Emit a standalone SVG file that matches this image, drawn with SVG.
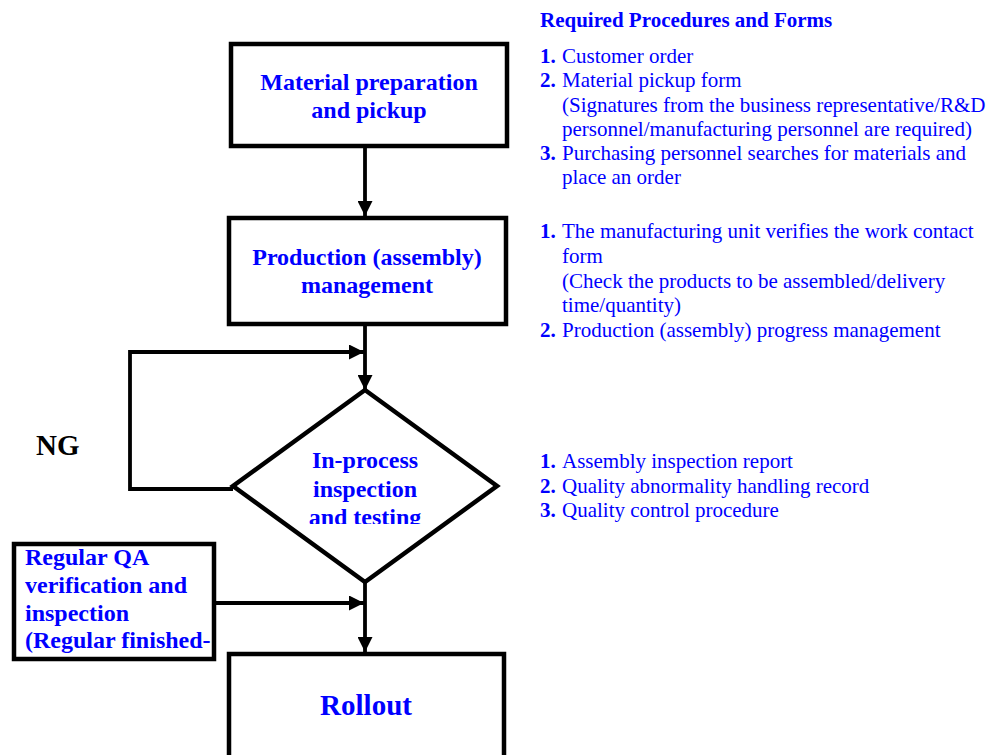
<svg xmlns="http://www.w3.org/2000/svg" width="1001" height="755" viewBox="0 0 1001 755">
  <style>
    .box { fill: #ffffff; stroke: #000000; stroke-width: 4.5; }
    .link { fill: none; stroke: #000000; stroke-width: 3.8; }
    .node { font-family: "Liberation Serif", "Times New Roman", serif; font-weight: bold; fill: #0000ff; font-size: 24px; }
    .lbl { font-family: "Liberation Serif", "Times New Roman", serif; font-weight: bold; fill: #000000; }
    .note { font-family: "Liberation Serif", "Times New Roman", serif; font-size: 21px; fill: #0000ff; }
    .num { font-weight: bold; }
  </style>
  <defs>
    <marker id="arrow" viewBox="0 0 15 15" refX="15" refY="7.5" markerWidth="15" markerHeight="15" markerUnits="userSpaceOnUse" orient="auto">
      <path d="M0,0 L15,7.5 L0,15 Z" fill="#000000"/>
    </marker>
    <clipPath id="clip-diamond-text">
      <rect x="233" y="390" width="264" height="134"/>
    </clipPath>
    <clipPath id="clip-qa-text">
      <rect x="16" y="546" width="196" height="111"/>
    </clipPath>
  </defs>

  <rect width="1001" height="755" fill="#ffffff"/>

  <!-- connectors -->
  <g id="connectors">
    <line class="link" x1="365" y1="148" x2="365" y2="216" marker-end="url(#arrow)"/>
    <line class="link" x1="365" y1="326" x2="365" y2="390" marker-end="url(#arrow)"/>
    <polyline class="link" points="233,489 130,489 130,352 364,352" marker-end="url(#arrow)"/>
    <line class="link" x1="365" y1="582" x2="365" y2="652" marker-end="url(#arrow)"/>
    <line class="link" x1="216" y1="603" x2="364" y2="603" marker-end="url(#arrow)"/>
  </g>

  <!-- process nodes -->
  <g id="node-material">
    <rect class="box" x="231" y="44" width="276" height="102"/>
    <text class="node" text-anchor="middle" x="369" y="90">Material preparation</text>
    <text class="node" text-anchor="middle" x="369" y="118">and pickup</text>
  </g>

  <g id="node-production">
    <rect class="box" x="229" y="218" width="277" height="106"/>
    <text class="node" text-anchor="middle" x="367" y="265">Production (assembly)</text>
    <text class="node" text-anchor="middle" x="367" y="293">management</text>
  </g>

  <g id="node-inspection">
    <polygon class="box" points="365,390 497,486 365,582 233,486"/>
    <g clip-path="url(#clip-diamond-text)">
      <text class="node" text-anchor="middle" x="365" y="468">In-process</text>
      <text class="node" text-anchor="middle" x="365" y="497">inspection</text>
      <text class="node" text-anchor="middle" x="365" y="525">and testing</text>
    </g>
  </g>

  <g id="node-qa">
    <rect class="box" x="14" y="544" width="200" height="115"/>
    <g clip-path="url(#clip-qa-text)">
      <text class="node" x="25" y="565">Regular QA</text>
      <text class="node" x="25" y="593">verification and</text>
      <text class="node" x="25" y="621">inspection</text>
      <text class="node" x="25" y="648">(Regular finished-</text>
    </g>
  </g>

  <g id="node-rollout">
    <rect class="box" x="229" y="654" width="275" height="130"/>
    <text class="node" font-size="29" text-anchor="middle" x="366" y="715" style="font-size:29px">Rollout</text>
  </g>

  <g id="label-ng">
    <text class="lbl" font-size="29" x="36" y="455">NG</text>
  </g>

  <!-- procedures and forms column -->
  <g id="notes">
    <text class="note" font-weight="bold" x="540" y="27">Required Procedures and Forms</text>

    <text class="note" x="540" y="63"><tspan class="num">1.</tspan><tspan x="562">Customer order</tspan></text>
    <text class="note" x="540" y="87"><tspan class="num">2.</tspan><tspan x="562">Material pickup form</tspan></text>
    <text class="note" x="562" y="112">(Signatures from the business representative/R&amp;D</text>
    <text class="note" x="562" y="136">personnel/manufacturing personnel are required)</text>
    <text class="note" x="540" y="160"><tspan class="num">3.</tspan><tspan x="562">Purchasing personnel searches for materials and</tspan></text>
    <text class="note" x="562" y="184">place an order</text>

    <text class="note" x="540" y="238"><tspan class="num">1.</tspan><tspan x="562">The manufacturing unit verifies the work contact</tspan></text>
    <text class="note" x="562" y="263">form</text>
    <text class="note" x="562" y="288">(Check the products to be assembled/delivery</text>
    <text class="note" x="562" y="312">time/quantity)</text>
    <text class="note" x="540" y="337"><tspan class="num">2.</tspan><tspan x="562">Production (assembly) progress management</tspan></text>

    <text class="note" x="540" y="468"><tspan class="num">1.</tspan><tspan x="562">Assembly inspection report</tspan></text>
    <text class="note" x="540" y="493"><tspan class="num">2.</tspan><tspan x="562">Quality abnormality handling record</tspan></text>
    <text class="note" x="540" y="517"><tspan class="num">3.</tspan><tspan x="562">Quality control procedure</tspan></text>
  </g>
</svg>
